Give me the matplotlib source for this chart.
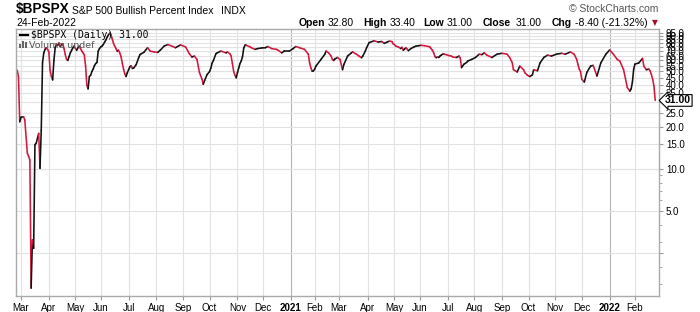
import numpy as np
import pandas as pd
import matplotlib
matplotlib.use("Agg")
import matplotlib.pyplot as plt
from matplotlib.collections import LineCollection
from matplotlib.patches import Rectangle
from matplotlib.ticker import FixedLocator, NullFormatter

plt.rcParams['font.family'] = ['Liberation Sans', 'DejaVu Sans']

# $BPSPX closes (not every day)
dates = [
    '2020-02-26', '2020-02-27', '2020-02-28', '2020-03-02', '2020-03-04', '2020-03-05',
    '2020-03-09', '2020-03-10', '2020-03-11', '2020-03-12', '2020-03-13', '2020-03-16',
    '2020-03-17', '2020-03-18', '2020-03-20', '2020-03-23', '2020-03-24', '2020-03-25',
    '2020-03-26', '2020-03-27', '2020-03-30', '2020-03-31', '2020-04-01', '2020-04-02',
    '2020-04-03', '2020-04-06', '2020-04-07', '2020-04-08', '2020-04-09', '2020-04-13',
    '2020-04-14', '2020-04-15', '2020-04-16', '2020-04-17', '2020-04-20', '2020-04-21',
    '2020-04-22', '2020-04-23', '2020-04-24', '2020-04-27', '2020-04-28', '2020-04-29',
    '2020-04-30', '2020-05-01', '2020-05-04', '2020-05-05', '2020-05-06', '2020-05-07',
    '2020-05-08', '2020-05-11', '2020-05-12', '2020-05-13', '2020-05-14', '2020-05-15',
    '2020-05-18', '2020-05-19', '2020-05-20', '2020-05-21', '2020-05-22', '2020-05-26',
    '2020-05-27', '2020-05-28', '2020-05-29', '2020-06-01', '2020-06-02', '2020-06-03',
    '2020-06-04', '2020-06-05', '2020-06-08', '2020-06-09', '2020-06-10', '2020-06-11',
    '2020-06-12', '2020-06-15', '2020-06-16', '2020-06-17', '2020-06-18', '2020-06-19',
    '2020-06-22', '2020-06-23', '2020-06-24', '2020-06-25', '2020-06-26', '2020-06-29',
    '2020-06-30', '2020-07-01', '2020-07-02', '2020-07-06', '2020-07-07', '2020-07-08',
    '2020-07-10', '2020-07-14', '2020-07-15', '2020-07-16', '2020-07-20', '2020-07-23',
    '2020-07-27', '2020-07-30', '2020-08-04', '2020-08-06', '2020-08-11', '2020-08-14',
    '2020-08-20', '2020-08-24', '2020-08-28', '2020-09-03', '2020-09-09', '2020-09-11',
    '2020-09-15', '2020-09-17', '2020-09-21', '2020-09-23', '2020-09-24', '2020-09-25',
    '2020-09-29', '2020-10-01', '2020-10-02', '2020-10-05', '2020-10-06', '2020-10-08',
    '2020-10-09', '2020-10-14', '2020-10-20', '2020-10-21', '2020-10-23', '2020-10-26',
    '2020-10-27', '2020-10-28', '2020-10-29', '2020-10-30', '2020-11-02', '2020-11-03',
    '2020-11-04', '2020-11-05', '2020-11-06', '2020-11-09', '2020-11-10', '2020-11-11',
    '2020-11-16', '2020-11-17', '2020-11-20', '2020-11-24', '2020-11-30', '2020-12-03',
    '2020-12-07', '2020-12-10', '2020-12-16', '2020-12-17', '2020-12-22', '2020-12-24',
    '2020-12-31', '2021-01-06', '2021-01-08', '2021-01-13', '2021-01-20', '2021-01-25',
    '2021-01-26', '2021-01-27', '2021-01-28', '2021-01-29', '2021-02-01', '2021-02-02',
    '2021-02-08', '2021-02-11', '2021-02-12', '2021-02-17', '2021-02-19', '2021-02-22',
    '2021-02-23', '2021-02-24', '2021-02-26', '2021-03-02', '2021-03-04', '2021-03-05',
    '2021-03-10', '2021-03-15', '2021-03-16', '2021-03-19', '2021-03-23', '2021-03-25',
    '2021-03-26', '2021-03-30', '2021-03-31', '2021-04-05', '2021-04-09', '2021-04-14',
    '2021-04-19', '2021-04-21', '2021-04-23', '2021-04-27', '2021-04-29', '2021-04-30',
    '2021-05-03', '2021-05-04', '2021-05-06', '2021-05-10', '2021-05-11', '2021-05-12',
    '2021-05-13', '2021-05-14', '2021-05-17', '2021-05-18', '2021-05-20', '2021-05-24',
    '2021-05-26', '2021-05-28', '2021-06-02', '2021-06-07', '2021-06-10', '2021-06-11',
    '2021-06-14', '2021-06-15', '2021-06-16', '2021-06-17', '2021-06-18', '2021-06-21',
    '2021-06-22', '2021-06-23', '2021-06-24', '2021-06-25', '2021-06-28', '2021-06-30',
    '2021-07-02', '2021-07-07', '2021-07-08', '2021-07-13', '2021-07-15', '2021-07-16',
    '2021-07-19', '2021-07-20', '2021-07-21', '2021-07-23', '2021-07-26', '2021-07-29',
    '2021-08-03', '2021-08-06', '2021-08-10', '2021-08-12', '2021-08-16', '2021-08-20',
    '2021-08-26', '2021-09-01', '2021-09-08', '2021-09-10', '2021-09-14', '2021-09-15',
    '2021-09-20', '2021-09-22', '2021-09-27', '2021-09-28', '2021-09-30', '2021-10-01',
    '2021-10-04', '2021-10-06', '2021-10-07', '2021-10-12', '2021-10-14', '2021-10-19',
    '2021-10-22', '2021-10-27', '2021-11-02', '2021-11-08', '2021-11-11', '2021-11-17',
    '2021-11-22', '2021-11-24', '2021-11-26', '2021-11-29', '2021-11-30', '2021-12-01',
    '2021-12-03', '2021-12-07', '2021-12-10', '2021-12-14', '2021-12-17', '2021-12-22',
    '2021-12-29', '2022-01-03', '2022-01-06', '2022-01-11', '2022-01-13', '2022-01-19',
    '2022-01-24', '2022-01-26', '2022-01-27', '2022-01-28', '2022-01-31', '2022-02-01',
    '2022-02-04', '2022-02-09', '2022-02-10', '2022-02-14', '2022-02-16', '2022-02-17',
    '2022-02-18', '2022-02-22', '2022-02-23', '2022-02-24',
]
values = [
    51, 46, 21.8, 23.5, 23.7, 22.5,
    13, 12.3, 11.6, 1.4, 3.1, 2.7,
    14.9, 15.3, 18, 10.1, 19, 58,
    68, 72, 74, 72, 69, 51,
    46, 43.5, 60, 74, 78, 77,
    80, 76, 77, 79, 73, 66,
    61, 60, 64, 68, 71, 74,
    76, 73, 71, 74, 76, 73,
    70, 68, 66, 55, 40, 37.5,
    46, 47, 50, 52, 55, 57,
    58, 70, 73, 75, 76, 78,
    81, 84, 88, 91, 94, 92,
    86, 80, 76, 73, 70, 71,
    68, 64, 57.5, 52, 48, 46,
    49, 51.5, 54, 55, 52.5, 53,
    56, 63, 66, 67, 68.5, 74,
    70, 69, 68.5, 71, 76, 78,
    75.5, 74, 77.5, 75, 67, 63.5,
    64.5, 61, 49, 44, 40.5, 43,
    47.5, 50, 53, 57.5, 60, 67,
    68, 70, 68, 69, 67, 64.5,
    57, 50, 47, 45, 49, 53,
    57, 59.5, 64, 74, 77, 77,
    75, 74, 72, 73, 73.7, 74,
    75.5, 73, 72, 71, 68, 70,
    70, 73, 75.5, 74, 72, 66.5,
    57.5, 53, 50.3, 50.5, 52, 54.7,
    61, 66.5, 70, 68, 64.5, 61,
    60, 61.5, 63, 61, 51.5, 56,
    64.5, 68, 69, 66.5, 64.5, 62.8,
    64.5, 70, 74, 80.5, 83, 81.3,
    82, 79.5, 81, 82.5, 82, 79,
    78, 76, 75, 73, 74.5, 71,
    72.5, 74, 72.5, 70.5, 73, 74.5,
    76, 76.5, 77, 76.5, 75.5, 75,
    73, 71, 68, 64, 62.8, 63.5,
    63, 64.5, 65.5, 66.5, 66.5, 66,
    65, 64.5, 63.5, 63, 64.5, 62.5,
    53.3, 55, 56.5, 58, 59.5, 61,
    63, 66.5, 66, 68, 65.5, 63,
    66.5, 67.5, 66.5, 63, 58, 51.5,
    49.6, 54.7, 51.5, 49, 47, 46.5,
    46, 47.3, 51.5, 50.6, 57.5, 63,
    65.5, 64.5, 66.5, 67.5, 66.5, 69,
    66.5, 61, 56, 52, 50, 44,
    42, 49.3, 54.7, 55.3, 46.4, 57.5,
    66.5, 71.3, 66.5, 61, 59.5, 51.5,
    38.3, 36.2, 37.5, 42, 52, 56.5,
    57.5, 62, 54.7, 51.5, 52, 50.5,
    47.5, 44, 39.4, 31,
]

# market holidays, the x axis counts trading days only
holidays = ['2020-04-10', '2020-05-25', '2020-07-03', '2020-09-07', '2020-11-26',
            '2020-12-25', '2021-01-01', '2021-01-18', '2021-02-15', '2021-04-02',
            '2021-05-31', '2021-07-05', '2021-09-06', '2021-11-25', '2021-12-24',
            '2022-01-17', '2022-02-21']

y_ticks = [2.5, 5, 10, 15, 20, 25, 30, 35, 40, 45, 50, 55, 60, 65, 70, 75, 80, 85, 90, 95]
y_minor = [1.5, 2, 3, 4, 6, 7, 8, 9]

days = pd.bdate_range('2020-02-20', '2022-03-04')
days = days[~days.isin(pd.to_datetime(holidays))]
pos = days.get_indexer(pd.to_datetime(dates))
vals = np.array(values)

RED = '#d6173c'

fig = plt.figure(figsize=(7.0, 3.12), dpi=100)
ax = fig.add_axes([16/700, 16/312, 643/700, 267/312])

pts = np.column_stack([pos, vals])
segs = np.stack([pts[:-1], pts[1:]], axis=1)
cols = ['#111111' if b >= a else RED for a, b in zip(vals[:-1], vals[1:])]
lc = LineCollection(segs, colors=cols, linewidths=1.15, capstyle='round', joinstyle='round')
ax.add_collection(lc)

ax.set_yscale('log')
ax.set_ylim(1.23, 100.8)
ax.set_xlim(pos[0] - 0.95, pos[-1] + 3)

# month ticks at first trading day
s = pd.Series(np.arange(len(days)), index=days)
firsts = s.groupby(days.to_period('M')).first()
firsts = firsts[(firsts.index >= pd.Period('2020-03', 'M')) & (firsts.index <= pd.Period('2022-02', 'M'))]
xt = firsts.values
xl = [str(p.year) if p.month == 1 else p.strftime('%b') for p in firsts.index]
ax.set_xticks(xt)
ax.set_xticklabels(xl, fontsize=7)
for lab, p in zip(ax.get_xticklabels(), firsts.index):
    if p.month == 1:
        lab.set_fontweight('bold')
for x, p in zip(xt, firsts.index):
    ax.axvline(x, color='#b5b5b5' if p.month == 1 else '#e2e2e2', lw=0.8, zorder=0)

ax.yaxis.tick_right()
ax.set_yticks(y_ticks)
ax.set_yticklabels(['' if t == 2.5 else '%.1f' % t for t in y_ticks], fontsize=7)
ax.yaxis.set_minor_locator(FixedLocator(y_minor))
ax.yaxis.set_minor_formatter(NullFormatter())
for t in y_ticks:
    ax.axhline(t, color='#e2e2e2', lw=0.8, zorder=0)

ax.tick_params(axis='both', which='major', length=3, color='#999999', pad=2)
ax.tick_params(axis='y', which='minor', length=2, color='#999999')
for sp in ax.spines.values():
    sp.set_color('#aaaaaa')
    sp.set_linewidth(1)

# last value marker
ax.annotate('31.00', xy=(1.0, vals[-1]), xycoords=('axes fraction', 'data'),
            xytext=(4.5, 0), textcoords='offset points', ha='left', va='center',
            fontsize=7.5, fontweight='bold',
            bbox=dict(boxstyle='larrow,pad=0.08', fc='white', ec='black', lw=0.8))

# header
def fy(py):
    return 1 - py / 312

fig.text(16/700, fy(13.5), '$BPSPX', fontsize=9.8, fontweight='bold', va='baseline')
fig.text(72/700, fy(13.5), 'S&P 500 Bullish Percent Index', fontsize=7.5, va='baseline')
fig.text(221/700, fy(13.5), 'INDX', fontsize=7.5, va='baseline')
fig.text(16/700, fy(26), '24-Feb-2022', fontsize=7.5, va='baseline')
fig.text(658/700, fy(12.5), '\u00a9 StockCharts.com', fontsize=7.5, color='#555555',
         va='baseline', ha='right')

ohlc = [(299, 'Open', True), (328, '32.80', False), (363, 'High', True), (390, '33.40', False),
        (423, 'Low', True), (447, '31.00', False), (483, 'Close', True), (516, '31.00', False),
        (552, 'Chg', True), (575, '-8.40 (-21.32%)', False)]
for px, txt, bold in ohlc:
    fig.text(px/700, fy(26), txt, fontsize=7.5, va='baseline',
             fontweight='bold' if bold else 'normal')
fig.text(652/700, fy(25), '\u25bc', fontsize=5.5, color='#a0102a', va='baseline',
         family='DejaVu Sans')

# in-chart legend
fig.add_artist(plt.Line2D([20/700, 28/700], [fy(35), fy(35)], color='black', lw=1.6))
fig.text(31/700, fy(38), '$BPSPX (Daily) 31.00', fontsize=7, family='DejaVu Sans Mono',
         va='baseline')
for i, hh in enumerate([4, 6, 5]):
    fig.add_artist(Rectangle(((19 + i * 3) / 700, fy(47.5)), 2/700, hh/312,
                             transform=fig.transFigure, color='#666666', lw=0))
fig.text(29/700, fy(47.5), 'Volume undef', fontsize=6.8, color='#555555', va='baseline',
         family='DejaVu Sans')

fig.savefig('out.png', dpi=100)
